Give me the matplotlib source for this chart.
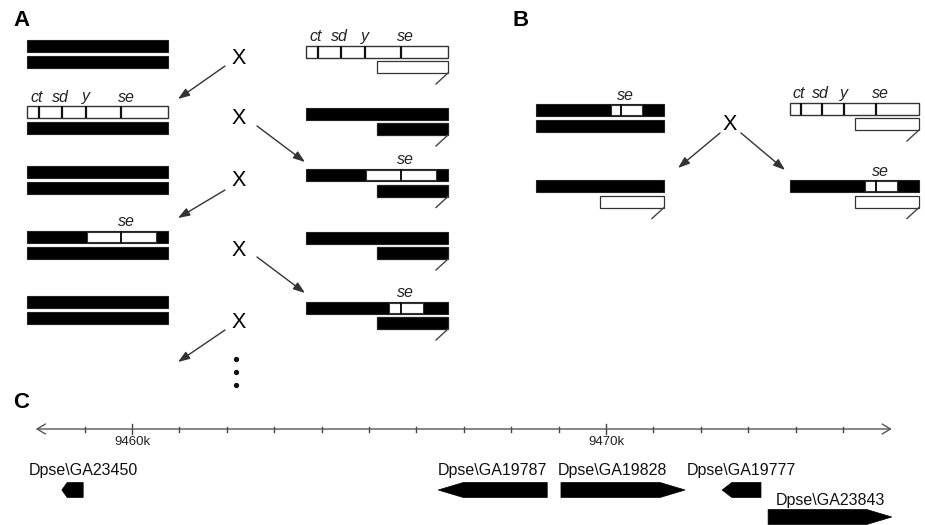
import matplotlib
matplotlib.use('Agg')
import matplotlib.pyplot as plt
from matplotlib.patches import Rectangle, Polygon

plt.rcParams['font.family'] = ['Liberation Sans', 'DejaVu Sans']

# ---------------- data ----------------
marker_names = ['ct', 'sd', 'y', 'se']
marker_frac = [0.085, 0.247, 0.417, 0.667]          # positions of markers along the X
insert_large = (0.425, 0.915)                         # se-region insertion (large)
insert_small = (0.585, 0.826)                         # se-region insertion (small)
y_start_frac = 0.5                                    # start of the short (Y) arm

axis_start_kb = 9457.97
axis_end_kb = 9476.03
major_ticks_kb = [9460, 9470]
major_tick_labels = ['9460k', '9470k']
minor_ticks_kb = list(range(9459, 9476))

gene_names = ['Dpse\\GA23450', 'Dpse\\GA19787', 'Dpse\\GA19828',
              'Dpse\\GA19777', 'Dpse\\GA23843']
gene_start_kb = [9458.52, 9466.46, 9469.05, 9472.45, 9473.42]
gene_end_kb = [9458.97, 9468.76, 9471.67, 9473.27, 9476.03]
gene_strand = [-1, -1, 1, -1, 1]
gene_track = [0, 0, 0, 0, 1]

# ---------------- figure ----------------
W, H = 925, 525
fig = plt.figure(figsize=(W / 100, H / 100), dpi=100)
ax = fig.add_axes([0, 0, 1, 1])
ax.set_xlim(0, W)
ax.set_ylim(H, 0)
ax.axis('off')

EDGE = '#333333'
BH = 12
label_shift = [-0.018, -0.01, 0.0, 0.035]


def chrom(x0, x1, yc, kind):
    L = x1 - x0
    top = yc - BH / 2
    if kind == 'white':
        ax.add_patch(Rectangle((x0, top), L, BH, facecolor='white',
                               edgecolor=EDGE, lw=1.0, zorder=2))
        for f, nm, sh in zip(marker_frac, marker_names, label_shift):
            ax.plot([x0 + f * L] * 2, [top, top + BH], color='#111111',
                    lw=1.6, zorder=3, solid_capstyle='butt')
            ax.text(x0 + (f + sh) * L, top - 1.5, nm, style='italic',
                    fontsize=11.5, ha='center', va='bottom', color='#222222')
    else:
        ax.add_patch(Rectangle((x0, top), L, BH, facecolor='black',
                               edgecolor='#222222', lw=0.8, zorder=2))
        if kind in ('ins_large', 'ins_small'):
            a, b = insert_large if kind == 'ins_large' else insert_small
            ax.add_patch(Rectangle((x0 + a * L, top + 1), (b - a) * L, BH - 2,
                                   facecolor='white', edgecolor=EDGE,
                                   lw=0.8, zorder=3))
            f = marker_frac[3]
            ax.plot([x0 + f * L] * 2, [top + 1, top + BH - 1],
                    color='#111111', lw=1.4, zorder=4)
            ax.text(x0 + (f + label_shift[3]) * L, top - 1.5, marker_names[3],
                    style='italic', fontsize=11.5, ha='center', va='bottom',
                    color='#222222')


def short_arm(x0, x1, yc, fill):
    L = x1 - x0
    top = yc - BH / 2
    xs = x0 + y_start_frac * L
    ax.add_patch(Rectangle((xs, top), x1 - xs, BH,
                           facecolor='black' if fill == 'black' else 'white',
                           edgecolor='#222222' if fill == 'black' else EDGE,
                           lw=0.9, zorder=2))
    ax.plot([x1, x1 - 12], [top + BH, top + BH + 11], color='#444444',
            lw=1.0, zorder=2)


def cross(x, y):
    ax.text(x, y, 'X', fontsize=15.5, ha='center', va='center', color='#000000')


def arrow(p0, p1):
    ax.annotate('', xy=p1, xytext=p0,
                arrowprops=dict(arrowstyle='-|>,head_length=0.7,head_width=0.25',
                                color='#333333', lw=1.0, shrinkA=0, shrinkB=0,
                                mutation_scale=10))


# ---------- panel A ----------
ax.text(13, 21, 'A', fontsize=16, fontweight='bold', ha='left', va='center')
OFF = 15.5
lx0, lx1 = 27, 168
left_rows = [(46, 'black'), (112, 'white'), (172, 'black'),
             (237, 'ins_large'), (302, 'black')]
for yc, kind in left_rows:
    chrom(lx0, lx1, yc, kind)
    chrom(lx0, lx1, yc + OFF, 'black')

rx0, rx1 = 306, 448
right_rows = [(51.5, 'white', 'white'), (113.5, 'black', 'black'),
              (175, 'ins_large', 'black'), (237.5, 'black', 'black'),
              (307.5, 'ins_small', 'black')]
for yc, kind, arm in right_rows:
    chrom(rx0, rx1, yc, kind)
    short_arm(rx0, rx1, yc + OFF, arm)

for yx in [59, 119, 181, 251, 323]:
    cross(239, yx)
arrow((225, 66), (178, 99))
arrow((257, 126), (305, 162))
arrow((225, 190), (178, 218))
arrow((257, 257), (305, 293))
arrow((225, 330), (178, 362))
for yd in [359, 372, 385]:
    ax.plot(236, yd, 'o', color='#111111', ms=2.8)

# ---------- panel B ----------
ax.text(512, 21, 'B', fontsize=16, fontweight='bold', ha='left', va='center')
bl0, bl1 = 536, 664
br0, br1 = 790, 919
chrom(bl0, bl1, 110, 'ins_small')
chrom(bl0, bl1, 110 + OFF, 'black')
chrom(br0, br1, 108.5, 'white')
short_arm(br0, br1, 108.5 + OFF, 'white')
cross(730, 125)
arrow((720, 133), (678, 168))
arrow((741, 133), (785, 170))
chrom(bl0, bl1, 186, 'black')
short_arm(bl0, bl1, 186 + OFF, 'white')
chrom(br0, br1, 186, 'ins_small')
short_arm(br0, br1, 186 + OFF, 'white')

# ---------- panel C ----------
ax.text(13, 403, 'C', fontsize=16, fontweight='bold', ha='left', va='center')
ax2 = fig.add_axes([0, 0, 1, 1])
px_per_kb = 47.4
ax2.set_xlim(9460 - 132 / px_per_kb, 9460 + (W - 132) / px_per_kb)
ax2.set_ylim(H, 0)
ax2.axis('off')

AY = 429
ax2.annotate('', xy=(axis_end_kb, AY), xytext=(axis_start_kb, AY),
             arrowprops=dict(arrowstyle='<->,head_length=0.5,head_width=0.3',
                             color='#555555', lw=1.0, shrinkA=0, shrinkB=0,
                             mutation_scale=12))
for t in minor_ticks_kb:
    if t in major_ticks_kb:
        continue
    ax2.plot([t, t], [AY - 2.5, AY + 2.5], color='#444444', lw=1.0)
for t, lab in zip(major_ticks_kb, major_tick_labels):
    ax2.plot([t, t], [AY - 5, AY + 5], color='#444444', lw=1.0)
    ax2.text(t, AY + 13, lab, fontsize=9.5, ha='center', va='center',
             color='#222222')

track_y = [490, 517]
label_y = [470, 500]
label_nudge_px = [11, 0, -11, 0, 0]
GH = 15
for nm, s, e, st, tr, nd in zip(gene_names, gene_start_kb, gene_end_kb,
                                gene_strand, gene_track, label_nudge_px):
    yc = track_y[tr]
    head = min(0.53, 0.25 * (e - s))
    if st < 0:
        pts = [(s, yc), (s + head, yc - GH / 2), (e, yc - GH / 2),
               (e, yc + GH / 2), (s + head, yc + GH / 2)]
    else:
        pts = [(e, yc), (e - head, yc - GH / 2), (s, yc - GH / 2),
               (s, yc + GH / 2), (e - head, yc + GH / 2)]
    ax2.add_patch(Polygon(pts, closed=True, facecolor='black',
                          edgecolor='black', lw=0.5))
    ax2.text((s + e) / 2 + nd / px_per_kb, label_y[tr], nm, fontsize=11.5,
             ha='center', va='center', color='#111111')

fig.savefig('out.png', dpi=100)
